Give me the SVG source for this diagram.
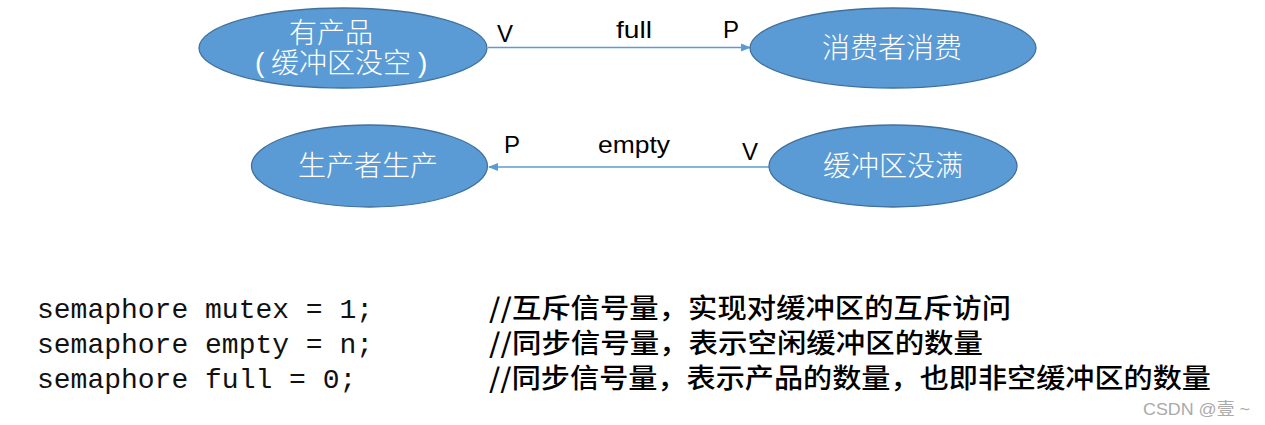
<svg xmlns="http://www.w3.org/2000/svg" width="1265" height="425" viewBox="0 0 1265 425">
<defs>
<style>
.node ellipse{fill:#5B9BD5;stroke:#41719C;stroke-width:1.3}
.nt{font-family:"Noto Sans CJK SC","Noto Sans",sans-serif;font-size:28px;fill:#fff;text-anchor:middle;font-weight:300}
.par{font-family:"Liberation Sans",sans-serif;font-size:28px;fill:#fff;font-weight:300}
.lbl{font-family:"Liberation Sans","Noto Sans",sans-serif;font-size:24px;fill:#000}
.code{font-family:"Liberation Mono",monospace;font-size:28px;fill:#111}
.cmt{font-family:"Noto Sans CJK SC",sans-serif;font-size:27px;fill:#000;font-weight:500}
.conn line{stroke:#5B9BD5;stroke-width:1.3;fill:none}
</style>
<marker id="arr" markerWidth="10" markerHeight="10" refX="9" refY="5" orient="auto" markerUnits="userSpaceOnUse">
<path d="M0,1 L10,5 L0,9 Z" fill="#5B9BD5"/>
</marker>
</defs>
<rect width="1265" height="425" fill="#fff"/>
<g id="connectors" class="conn">
<line x1="488" y1="47.5" x2="750" y2="47.5" marker-end="url(#arr)"/>
<line x1="769" y1="167" x2="489" y2="167" marker-end="url(#arr)"/>
</g>
<g id="n-product" class="node">
<ellipse cx="343" cy="48" rx="144" ry="40"/>
<text class="nt" x="331" y="43">有产品</text>
<text class="par" x="255" y="72">(</text>
<text class="nt" x="341" y="73">缓冲区没空</text>
<text class="par" x="418" y="72">)</text>
</g>
<g id="n-consumer" class="node">
<ellipse cx="893" cy="48" rx="143" ry="40"/>
<text class="nt" x="892" y="58">消费者消费</text>
</g>
<g id="n-producer" class="node">
<ellipse cx="369.5" cy="166" rx="118" ry="41"/>
<text class="nt" x="368" y="176">生产者生产</text>
</g>
<g id="n-notfull" class="node">
<ellipse cx="893" cy="166" rx="124" ry="41"/>
<text class="nt" x="893" y="176">缓冲区没满</text>
</g>
<g id="labels">
<text class="lbl" x="497" y="42">V</text>
<text class="lbl" x="616" y="38" textLength="36" lengthAdjust="spacingAndGlyphs">full</text>
<text class="lbl" x="723" y="38">P</text>
<text class="lbl" x="504" y="153">P</text>
<text class="lbl" x="598" y="153" textLength="72" lengthAdjust="spacingAndGlyphs">empty</text>
<text class="lbl" x="742" y="160">V</text>
</g>
<g id="code">
<text class="code" x="37" y="318">semaphore mutex = 1;</text>
<text class="code" x="37" y="353">semaphore empty = n;</text>
<text class="code" x="37" y="388">semaphore full = 0;</text>
<text class="cmt" x="489" y="318" textLength="522" lengthAdjust="spacingAndGlyphs">//互斥信号量，实现对缓冲区的互斥访问</text>
<text class="cmt" x="489" y="353" textLength="494" lengthAdjust="spacingAndGlyphs">//同步信号量，表示空闲缓冲区的数量</text>
<text class="cmt" x="489" y="388" textLength="722" lengthAdjust="spacingAndGlyphs">//同步信号量，表示产品的数量，也即非空缓冲区的数量</text>
</g>
<text x="1143" y="415" font-family="Liberation Sans,'Noto Sans CJK SC',sans-serif" font-size="17" fill="#aaa" textLength="107" lengthAdjust="spacingAndGlyphs">CSDN @壹 ~</text>
</svg>
